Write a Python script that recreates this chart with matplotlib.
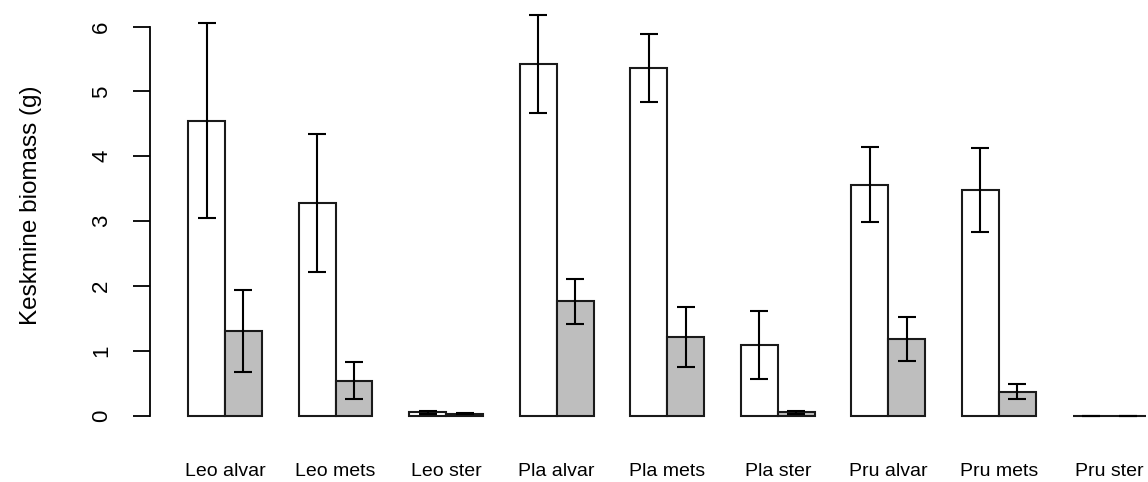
import numpy as np
import matplotlib
matplotlib.use("Agg")
import matplotlib.pyplot as plt

# ---------- DATA ----------
groups = ["Leo alvar", "Leo mets", "Leo ster", "Pla alvar", "Pla mets",
          "Pla ster", "Pru alvar", "Pru mets", "Pru ster"]
white_mean = [4.55, 3.28, 0.05, 5.42, 5.36, 1.09, 3.56, 3.48, 0.0]
white_err = [1.51, 1.06, 0.02, 0.755, 0.52, 0.52, 0.575, 0.65, 0.0]
gray_mean = [1.30, 0.54, 0.03, 1.76, 1.21, 0.05, 1.18, 0.37, 0.0]
gray_err = [0.635, 0.29, 0.01, 0.345, 0.46, 0.02, 0.34, 0.12, 0.0]
y_ticks = [0, 1, 2, 3, 4, 5, 6]
y_label = "Keskmine biomass (g)"

plt.rcParams["font.family"] = ["Liberation Sans", "DejaVu Sans"]

# ---------- PLOT ----------
fig = plt.figure(figsize=(11.48, 4.82), dpi=100)
ax = fig.add_axes([0.1305, 0.111, 0.9014, 0.8743])

idx = np.arange(len(groups))
x_white = 1.5 + 3 * idx
x_gray = 2.5 + 3 * idx

lw = 1.5
ax.bar(x_white, white_mean, width=1.0, color="white", edgecolor="#1a1a1a", linewidth=lw, zorder=2)
ax.bar(x_gray, gray_mean, width=1.0, color="#BEBEBE", edgecolor="#1a1a1a", linewidth=lw, zorder=2)
ax.errorbar(x_white, white_mean, yerr=white_err, fmt="none", ecolor="black",
            elinewidth=lw, capsize=6.2, capthick=lw, zorder=3)
ax.errorbar(x_gray, gray_mean, yerr=gray_err, fmt="none", ecolor="black",
            elinewidth=lw, capsize=6.2, capthick=lw, zorder=3)

ax.set_xlim(-0.04, 28.04)
ax.set_ylim(-0.2, 6.3)

for s in ["top", "right", "bottom"]:
    ax.spines[s].set_visible(False)
ax.spines["left"].set_bounds(0, 6)
ax.spines["left"].set_linewidth(1.3)

ax.set_yticks(y_ticks)
ax.set_yticklabels([str(t) for t in y_ticks], rotation=90, va="center", fontsize=16)
ax.tick_params(axis="y", length=12.2, width=1.3, pad=15)

ax.set_xticks(2.0 + 3 * idx)
ax.set_xticklabels(groups, fontsize=14)
ax.tick_params(axis="x", length=0, pad=25)

fig.text(31 / 1148, 1 - 205 / 482, y_label, rotation=90, ha="center", va="center", fontsize=17.5)

plt.savefig("out.png", dpi=100)
